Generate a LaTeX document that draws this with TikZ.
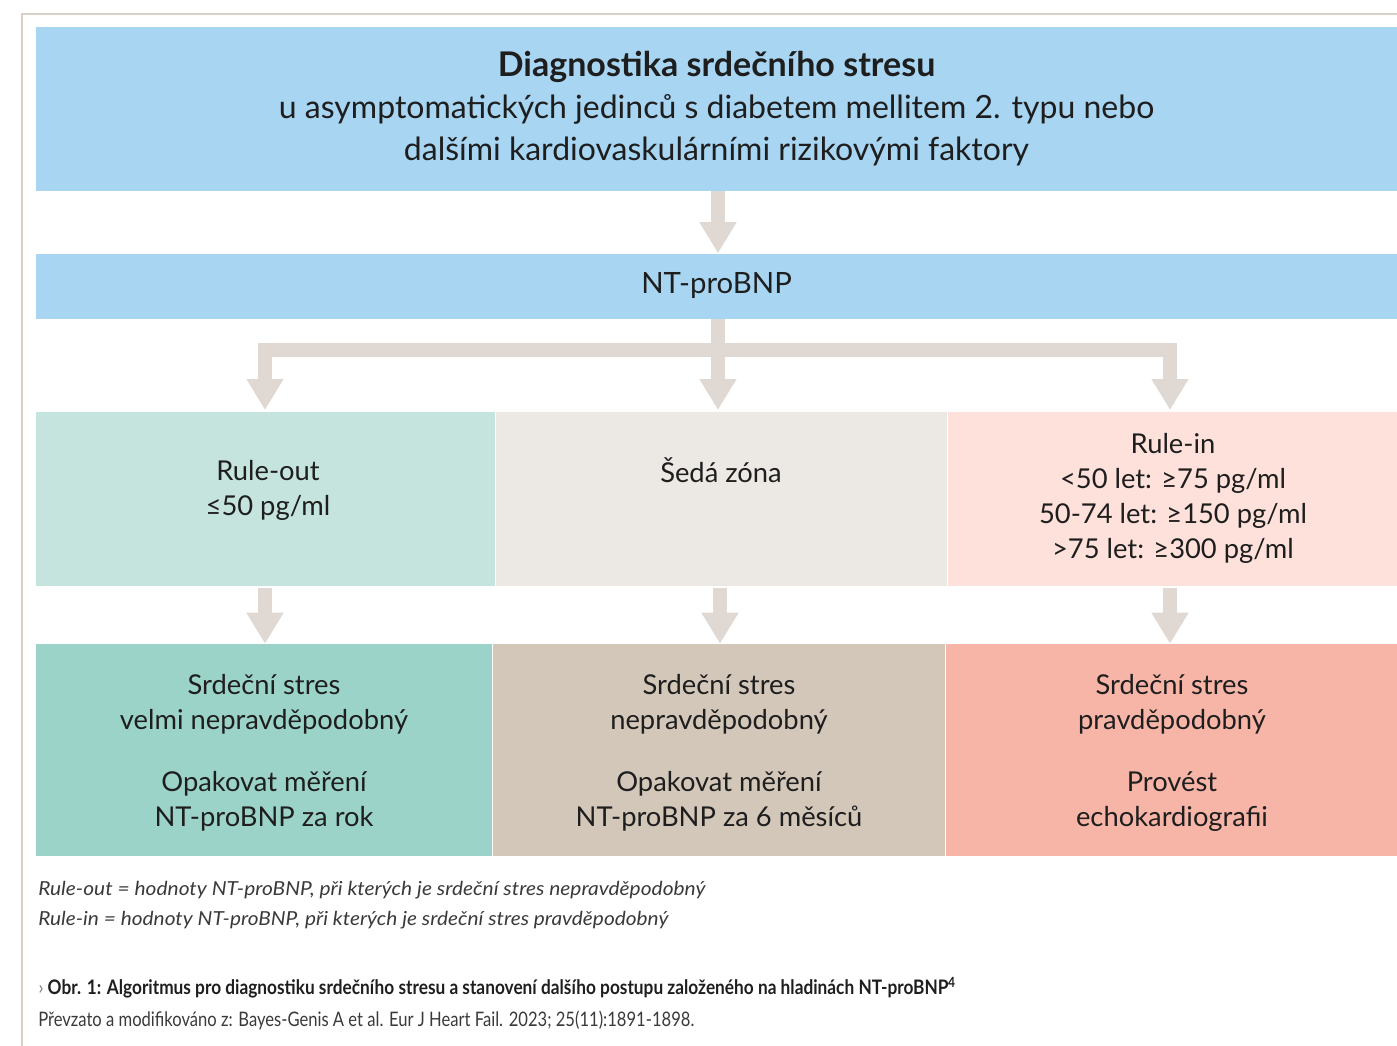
\documentclass[tikz,border=0pt]{standalone}
\usepackage{fontspec}
\setmainfont{Lato}
\usepackage{graphicx}
\usetikzlibrary{arrows.meta}
\definecolor{topblue}{HTML}{A7D5F2}
\definecolor{roL}{HTML}{C5E4DE}
\definecolor{gzL}{HTML}{ECE8E3}
\definecolor{riL}{HTML}{FDE1DA}
\definecolor{roD}{HTML}{9BD3C8}
\definecolor{gzD}{HTML}{D3C7BA}
\definecolor{riD}{HTML}{F7B5A8}
\definecolor{arr}{HTML}{E0D8D2}
\definecolor{frame}{HTML}{D8D0C6}
\definecolor{txt}{HTML}{1E1E1E}
\definecolor{notetxt}{HTML}{3A3A3A}
\newcommand\mainsize{\fontsize{20.5}{26.25}\selectfont}
\newcommand\titlesize{\fontsize{24}{31.5}\selectfont}
\tikzset{
  box/.style={rectangle, inner sep=0pt, align=center, text=txt, font=\mainsize},
  lbl/.style={inner sep=0pt, align=center, text=txt, font=\mainsize},
  note/.style={inner sep=0pt, anchor=west, text=notetxt},
  fatline/.style={draw=arr, line width=10pt},
  fatarrow/.style={draw=arr, line width=10pt, line join=miter, -{Triangle[width=26.25pt, length=23.25pt]}}
}
\begin{document}
\begin{tikzpicture}[x=0.75pt, y=-0.75pt]
\useasboundingbox (0,0) rectangle (1397,1046);
% frame
\draw[frame, line width=1.5pt] (1397,14) -- (22,14) -- (22,1046);
% boxes
\node[box, fill=topblue, minimum width=1020.75pt, minimum height=123pt, font=\titlesize] (top) at (716.5,109)
  {{\fontsize{25.5}{31.5}\selectfont\bfseries Diagnostika srdečního stresu}\\u asymptomatických jedinců s diabetem mellitem 2. typu nebo\\dalšími kardiovaskulárními rizikovými faktory};
\node[box, fill=topblue, minimum width=1020.75pt, minimum height=48.75pt, font=\fontsize{22}{26}\selectfont] (nt) at (716.5,286) {NT-proBNP};
\node[box, fill=roL, minimum width=344.25pt, minimum height=130.5pt] (ro) at (265.5,499) {};
\node[box, fill=gzL, minimum width=338.25pt, minimum height=130.5pt] (gz) at (721.5,499) {};
\node[box, fill=riL, minimum width=336.75pt, minimum height=130.5pt] (ri) at (1172.5,499) {};
\node[lbl] (rot) at (268,490) {Rule-out\\≤50 pg/ml};
\node[lbl] (gzt) at (721,470) {Šedá zóna};
\node[lbl] (rit) at (1173,498) {Rule-in\\<50 let: ≥75 pg/ml\\50-74 let: ≥150 pg/ml\\>75 let: ≥300 pg/ml};
\node[box, fill=roD, minimum width=342pt, minimum height=159pt] (s1) at (264,750) {};
\node[box, fill=gzD, minimum width=339pt, minimum height=159pt] (s2) at (719,750) {};
\node[box, fill=riD, minimum width=338.25pt, minimum height=159pt] (s3) at (1171.5,750) {};
\node[lbl] (s1t) at (264,753)
  {Srdeční stres\\velmi nepravděpodobný\\[20pt]Opakovat měření\\NT-proBNP za rok};
\node[lbl] (s2t) at (719,753)
  {Srdeční stres\\nepravděpodobný\\[20pt]Opakovat měření\\NT-proBNP za 6 měsíců};
\node[lbl] (s3t) at (1172,753)
  {Srdeční stres\\pravděpodobný\\[20pt]Provést\\echokardiografii};
% connectors
\draw[fatarrow] (top.south -| 718,0) -- (nt.north -| 718,0);
\coordinate (b) at (718,350);
\draw[fatline] (nt.south -| b) -- (b);
\draw[fatarrow] (b) -| (265,410);
\draw[fatarrow] (b) -- (718,410);
\draw[fatarrow] (b) -| (1170,410);
\draw[fatarrow] (265,588) -- (s1.north -| 265,0);
\draw[fatarrow] (720,588) -- (s2.north -| 720,0);
\draw[fatarrow] (1170,588) -- (s3.north -| 1170,0);
% notes
\node[note] (n1) at (38,890) {\resizebox{500.25pt}{\height}{\fontsize{14.5}{17}\selectfont\itshape Rule-out = hodnoty NT-proBNP, při kterých je srdeční stres nepravděpodobný}};
\node[note] (n2) at (38,920) {\resizebox{472.5pt}{\height}{\fontsize{14.5}{17}\selectfont\itshape Rule-in = hodnoty NT-proBNP, při kterých je srdeční stres pravděpodobný}};
\node[note, text=txt] (cap) at (38,988) {{\fontsize{14.5}{17}\selectfont\color{gray}›}\hspace{3pt}\resizebox{681pt}{\height}{\fontsize{15}{18}\selectfont\bfseries Obr. 1: Algoritmus pro diagnostiku srdečního stresu a stanovení dalšího postupu založeného na hladinách NT-proBNP\textsuperscript{4}}};
\node[note] (src) at (38,1020) {\resizebox{492pt}{\height}{\fontsize{15}{18}\selectfont Převzato a modifikováno z: Bayes-Genis A et al. Eur J Heart Fail. 2023; 25(11):1891-1898.}};
\end{tikzpicture}
\end{document}
